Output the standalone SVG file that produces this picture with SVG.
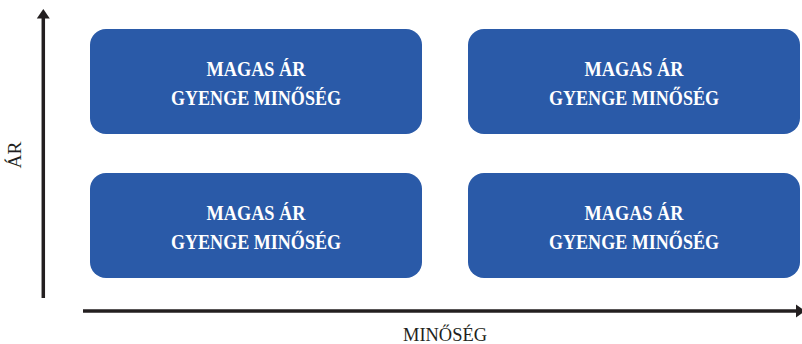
<svg xmlns="http://www.w3.org/2000/svg" width="802" height="344" viewBox="0 0 802 344">
  <style>
    .box { fill: #2a5aa8; }
    .bt { font-family: "Liberation Serif", "Times New Roman", serif; font-size: 22px; font-weight: bold; fill: #ffffff; text-anchor: middle; }
    .axis { stroke: #231f20; stroke-width: 3.5; fill: none; }
    .head { fill: #231f20; }
    .al { font-family: "Liberation Serif", "Times New Roman", serif; font-size: 18px; fill: #231f20; text-anchor: middle; }
  </style>
  <rect width="802" height="344" fill="#ffffff"/>
  <g id="connectors">
    <line class="axis" x1="43.3" y1="298" x2="43.3" y2="17"/>
    <polygon class="head" points="43.3,9 36.8,18.5 49.8,18.5"/>
    <line class="axis" x1="83" y1="311" x2="797" y2="311"/>
    <polygon class="head" points="805,311 796,304.5 796,317.5"/>
  </g>
  <g id="node-tl">
    <rect class="box" x="90" y="29" width="332" height="105" rx="16"/>
    <text class="bt" x="256" y="76" textLength="99" lengthAdjust="spacingAndGlyphs">MAGAS ÁR</text>
    <text class="bt" x="256" y="105" textLength="170" lengthAdjust="spacingAndGlyphs">GYENGE MINŐSÉG</text>
  </g>
  <g id="node-tr">
    <rect class="box" x="468" y="29" width="332" height="105" rx="16"/>
    <text class="bt" x="634" y="76" textLength="99" lengthAdjust="spacingAndGlyphs">MAGAS ÁR</text>
    <text class="bt" x="634" y="105" textLength="170" lengthAdjust="spacingAndGlyphs">GYENGE MINŐSÉG</text>
  </g>
  <g id="node-bl">
    <rect class="box" x="90" y="173" width="332" height="105" rx="16"/>
    <text class="bt" x="256" y="220" textLength="99" lengthAdjust="spacingAndGlyphs">MAGAS ÁR</text>
    <text class="bt" x="256" y="249" textLength="170" lengthAdjust="spacingAndGlyphs">GYENGE MINŐSÉG</text>
  </g>
  <g id="node-br">
    <rect class="box" x="468" y="173" width="332" height="105" rx="16"/>
    <text class="bt" x="634" y="220" textLength="99" lengthAdjust="spacingAndGlyphs">MAGAS ÁR</text>
    <text class="bt" x="634" y="249" textLength="170" lengthAdjust="spacingAndGlyphs">GYENGE MINŐSÉG</text>
  </g>
  <g id="axis-labels">
    <text class="al" x="445" y="341" textLength="84" lengthAdjust="spacingAndGlyphs">MINŐSÉG</text>
    <text class="al" transform="translate(21,155) rotate(-90)" x="0" y="0" textLength="27" lengthAdjust="spacingAndGlyphs">ÁR</text>
  </g>
</svg>
